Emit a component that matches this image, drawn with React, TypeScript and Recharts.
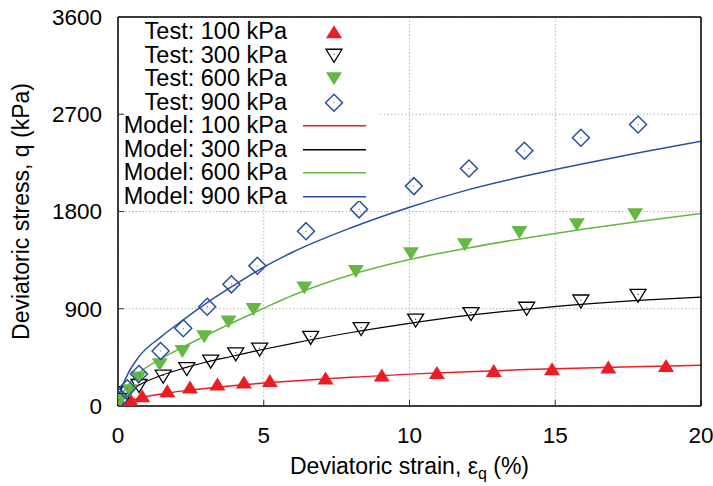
import React from 'react';
import { ComposedChart, Line, Scatter, XAxis, YAxis, CartesianGrid, Legend, Label } from 'recharts';

const FONT = '"Liberation Sans", Arial, Helvetica, sans-serif';

const xTicks = [0, 5, 10, 15, 20];
const yTicks = [0, 900, 1800, 2700, 3600];

// Test data (strain %, stress kPa)
const test100Strain = [0.09, 0.44, 0.83, 1.69, 2.47, 3.41, 4.32, 5.21, 7.12, 9.05, 10.94, 12.89, 14.89, 16.82, 18.8];
const test100Stress = [25, 56, 95, 142, 175, 203, 222, 235, 258, 288, 310, 328, 344, 360, 375];

const test300Strain = [0.03, 0.32, 0.72, 1.55, 2.36, 3.18, 4.04, 4.86, 6.61, 8.34, 10.21, 12.11, 14.02, 15.88, 17.84];
const test300Stress = [56, 118, 185, 271, 342, 410, 478, 522, 630, 712, 791, 851, 900, 967, 1020];

const test600Strain = [0.07, 0.4, 0.7, 1.43, 2.21, 2.96, 3.79, 4.65, 6.39, 8.16, 10.05, 11.9, 13.77, 15.74, 17.74];
const test600Stress = [50, 140, 260, 382, 505, 641, 778, 893, 1091, 1245, 1409, 1492, 1606, 1677, 1770];

const test900Strain = [0.03, 0.32, 0.72, 1.46, 2.24, 3.06, 3.89, 4.78, 6.45, 8.27, 10.15, 12.04, 13.94, 15.88, 17.84];
const test900Stress = [56, 164, 296, 509, 719, 919, 1126, 1298, 1618, 1820, 2035, 2198, 2362, 2483, 2605];

// Model curves
const modelStrain = [0, 0.1, 0.3, 0.7, 1.5, 2.25, 3, 4, 5, 6, 8, 10, 12, 14, 16, 18, 20];
const model100 = [0, 15, 40, 72, 112, 140, 163, 190, 212, 232, 265, 295, 318, 337, 352, 365, 377];
const model300 = [0, 55, 115, 190, 285, 350, 405, 465, 525, 580, 680, 765, 838, 895, 943, 980, 1008];
const model600 = [0, 85, 175, 300, 440, 548, 650, 780, 905, 1025, 1215, 1355, 1462, 1555, 1638, 1712, 1782];
const model900 = [0, 140, 275, 450, 645, 800, 945, 1120, 1285, 1425, 1650, 1840, 2000, 2130, 2245, 2350, 2450];

const zip = (xs: number[], ys: number[]) => xs.map((x, i) => ({ x, y: ys[i] }));

const RED = '#EC1C24';
const BLACK = '#000000';
const GREEN = '#66B743';
const BLUE = '#2C4DA3';

const TriUp = ({ cx, cy }: any) => (
  <polygon points={`${cx},${cy - 6.5} ${cx + 8},${cy + 6.5} ${cx - 8},${cy + 6.5}`} fill={RED} />
);
const TriDownOpen = ({ cx, cy }: any) => (
  <g>
    <polygon points={`${cx - 8},${cy - 6.5} ${cx + 8},${cy - 6.5} ${cx},${cy + 6.5}`} fill="none" stroke={BLACK} strokeWidth={1.3} />
    <circle cx={cx} cy={cy - 1.5} r={0.6} fill={BLACK} />
  </g>
);
const TriDownFilled = ({ cx, cy }: any) => (
  <polygon points={`${cx - 8},${cy - 6.5} ${cx + 8},${cy - 6.5} ${cx},${cy + 6.5}`} fill={GREEN} />
);
const Diamond = ({ cx, cy }: any) => (
  <g>
    <polygon points={`${cx},${cy - 8.5} ${cx + 8.5},${cy} ${cx},${cy + 8.5} ${cx - 8.5},${cy}`} fill="none" stroke={BLUE} strokeWidth={1.5} />
    <circle cx={cx} cy={cy} r={0.6} fill={BLUE} />
  </g>
);

const legendRows = [
  { label: 'Test: 100 kPa', kind: 'triUp', color: RED },
  { label: 'Test: 300 kPa', kind: 'triDownOpen', color: BLACK },
  { label: 'Test: 600 kPa', kind: 'triDownFilled', color: GREEN },
  { label: 'Test: 900 kPa', kind: 'diamond', color: BLUE },
  { label: 'Model: 100 kPa', kind: 'line', color: RED },
  { label: 'Model: 300 kPa', kind: 'line', color: BLACK },
  { label: 'Model: 600 kPa', kind: 'line', color: GREEN },
  { label: 'Model: 900 kPa', kind: 'line', color: BLUE },
];

const LegendMarker = ({ kind, color }: any) => {
  const cx = 47;
  const cy = 11.75;
  if (kind === 'triUp') return <TriUp cx={cx} cy={cy} />;
  if (kind === 'triDownOpen') return <TriDownOpen cx={cx} cy={cy} />;
  if (kind === 'triDownFilled') return <TriDownFilled cx={cx} cy={cy} />;
  if (kind === 'diamond') return <Diamond cx={cx} cy={cy} />;
  return <line x1={16} x2={79} y1={cy} y2={cy} stroke={color} strokeWidth={1.5} />;
};

const LegendBox = () => (
  <div style={{ position: 'relative', width: 253, height: 177, background: '#fff', fontFamily: FONT, fontSize: 23.5, color: '#000' }}>
    {legendRows.map((r, i) => (
      <div key={i} style={{ position: 'absolute', left: 0, top: -4 + 23.5 * i, width: 253, height: 23.5, lineHeight: '23.5px', whiteSpace: 'nowrap' }}>
        <span style={{ position: 'absolute', right: 253 - 162, top: 0 }}>{r.label}</span>
        <svg style={{ position: 'absolute', left: 162, top: 0, overflow: 'visible' }} width={91} height={23.5}>
          <LegendMarker kind={r.kind} color={r.color} />
        </svg>
      </div>
    ))}
  </div>
);

const XTitle = (props: any) => {
  const vb = props.viewBox || { x: 118, y: 406, width: 583 };
  return (
    <text x={vb.x + vb.width / 2} y={vb.y + 68} textAnchor="middle" fontFamily={FONT} fontSize={23} fill="#000">
      Deviatoric strain, ε<tspan dy={5} fontSize={16}>q</tspan><tspan dy={-5}> (%)</tspan>
    </text>
  );
};

const YTitle = (props: any) => {
  const vb = props.viewBox || { x: 0, y: 17, height: 389 };
  const cx = vb.x + 29;
  const cy = vb.y + vb.height / 2;
  return (
    <text x={cx} y={cy} transform={`rotate(-90, ${cx}, ${cy})`} textAnchor="middle" fontFamily={FONT} fontSize={23} fill="#000">
      Deviatoric stress, q (kPa)
    </text>
  );
};

const tickStyle = { fontFamily: FONT, fontSize: 22.5, fill: '#000' };
const frameLine = { stroke: '#000', strokeWidth: 1.5 };
const tickLine = { stroke: '#333', strokeWidth: 1 };

export default function App() {
  return (
    <div style={{ position: 'absolute', left: 0, top: 0, width: 713, height: 486, background: '#fff' }}>
      <ComposedChart width={713} height={486} margin={{ top: 16, right: 11, bottom: 0, left: 0 }}>
        <CartesianGrid stroke="#b5b5b5" strokeDasharray="1.5 2" />
        <XAxis
          type="number"
          dataKey="x"
          domain={[0, 20]}
          ticks={xTicks}
          interval={0}
          height={80}
          tickSize={-6}
          tickMargin={27}
          tick={tickStyle}
          axisLine={frameLine}
          tickLine={tickLine}
          allowDataOverflow
        >
          <Label content={XTitle} />
        </XAxis>
        <XAxis
          xAxisId="top"
          orientation="top"
          type="number"
          dataKey="x"
          domain={[0, 20]}
          ticks={xTicks}
          interval={0}
          height={1}
          tickSize={-6}
          tick={false}
          axisLine={frameLine}
          tickLine={tickLine}
        />
        <YAxis
          type="number"
          dataKey="y"
          domain={[0, 3600]}
          ticks={yTicks}
          interval={0}
          width={118}
          tickSize={-6}
          tickMargin={22}
          tick={tickStyle}
          axisLine={frameLine}
          tickLine={tickLine}
          allowDataOverflow
        >
          <Label content={YTitle} />
        </YAxis>
        <YAxis
          yAxisId="right"
          orientation="right"
          type="number"
          dataKey="y"
          domain={[0, 3600]}
          ticks={yTicks}
          interval={0}
          width={1}
          tickSize={-6}
          tick={false}
          axisLine={frameLine}
          tickLine={tickLine}
        />
        <Legend
          layout="horizontal"
          align="center"
          verticalAlign="middle"
          wrapperStyle={{ left: 125, top: 24, width: 253, height: 177, margin: 0, padding: 0 }}
          content={() => <LegendBox />}
        />
        <Line data={zip(modelStrain, model100)} dataKey="y" type="monotone" stroke={RED} strokeWidth={1.5} dot={false} activeDot={false} isAnimationActive={false} />
        <Line data={zip(modelStrain, model300)} dataKey="y" type="monotone" stroke={BLACK} strokeWidth={1.2} dot={false} activeDot={false} isAnimationActive={false} />
        <Line data={zip(modelStrain, model600)} dataKey="y" type="monotone" stroke={GREEN} strokeWidth={1.5} dot={false} activeDot={false} isAnimationActive={false} />
        <Line data={zip(modelStrain, model900)} dataKey="y" type="monotone" stroke={BLUE} strokeWidth={1.5} dot={false} activeDot={false} isAnimationActive={false} />
        <Scatter data={zip(test100Strain, test100Stress)} dataKey="y" shape={(p: any) => <TriUp cx={p.cx} cy={p.cy} />} isAnimationActive={false} />
        <Scatter data={zip(test300Strain, test300Stress)} dataKey="y" shape={(p: any) => <TriDownOpen cx={p.cx} cy={p.cy} />} isAnimationActive={false} />
        <Scatter data={zip(test600Strain, test600Stress)} dataKey="y" shape={(p: any) => <TriDownFilled cx={p.cx} cy={p.cy} />} isAnimationActive={false} />
        <Scatter data={zip(test900Strain, test900Stress)} dataKey="y" shape={(p: any) => <Diamond cx={p.cx} cy={p.cy} />} isAnimationActive={false} />
      </ComposedChart>
    </div>
  );
}
